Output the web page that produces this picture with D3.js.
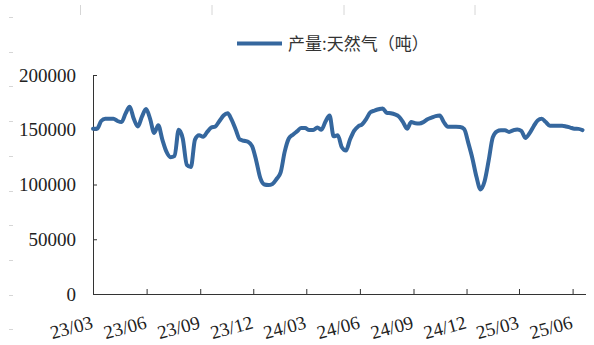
<!DOCTYPE html>
<html>
<head>
<meta charset="utf-8">
<script src="https://cdn.jsdelivr.net/npm/d3@7"></script>
<style>
  body { margin: 0; background: #fff; }
  svg { display: block; }
</style>
</head>
<body>
<div id="chart"></div>
<script>
// weekly output, tons
var startDate = new Date(2023, 2, 1);
var endDate = new Date(2025, 5, 24);
var seriesName = "产量:天然气（吨）";
var gasOutput = [
  151000, 151000, 158000, 160000, 160000, 160000, 158000, 157000, 165000, 171000,
  160000, 153000, 162000, 169000, 160000, 147000, 154000, 141000, 130000, 125000,
  126000, 150000, 142000, 118000, 116000, 141000, 145000, 143600, 148000, 152000,
  153000, 158000, 163000, 165000, 159000, 150000, 141000, 140000, 139000, 135000,
  122000, 106000, 100000, 99500, 100500, 105000, 111000, 130000, 142000, 145500,
  148500, 151500, 151500, 149700, 149700, 152000, 150000, 157500, 163000, 144000,
  145000, 134000, 131000, 141000, 149000, 153000, 155000, 160000, 166000, 167500,
  168700, 169500, 165500, 165000, 164000, 162000, 157000, 151000, 157000, 156000,
  155800, 157000, 159500, 161000, 162500, 163000, 157000, 152700, 152700, 152700,
  152500, 150500, 138000, 124000, 107000, 95500, 103000, 122000, 143000, 148500,
  149500, 149500, 148000, 149500, 150300, 149000, 142500, 146700, 153000, 158500,
  160000, 157000, 153700, 153700, 153700, 153700, 153000, 152000, 151000, 150800,
  149700
];
var yTicks = [0, 50000, 100000, 150000, 200000];
var xTickDates = [
  new Date(2023, 2, 1), new Date(2023, 5, 1), new Date(2023, 8, 1), new Date(2023, 11, 1),
  new Date(2024, 2, 1), new Date(2024, 5, 1), new Date(2024, 8, 1), new Date(2024, 11, 1),
  new Date(2025, 2, 1), new Date(2025, 5, 1)
];

var W = 594, H = 345;
var plotLeft = 93, plotRight = 586, plotTop = 75, plotBottom = 294;

var data = gasOutput.map(function (v, i) {
  return { date: d3.timeDay.offset(startDate, 7 * i), value: v };
});

var svg = d3.select("#chart").append("svg")
  .attr("width", W)
  .attr("height", H);

var x = d3.scaleTime().domain([startDate, endDate]).range([plotLeft, plotRight]);
var y = d3.scaleLinear().domain([0, 200000]).range([plotBottom, plotTop]);

// faint marks from the page background
var bg = svg.append("g").attr("stroke", "#d6d6d6").attr("stroke-width", 1);
[80.5, 212, 344, 475].forEach(function (px) {
  bg.append("line").attr("x1", px).attr("x2", px).attr("y1", 5).attr("y2", 15);
});
d3.range(10).forEach(function (k) {
  var py = Math.round(17 + k * 34.7) + 0.5;
  bg.append("line").attr("x1", 9).attr("x2", 13).attr("y1", py).attr("y2", py);
});

// y axis
var yAxis = svg.append("g")
  .attr("transform", "translate(" + plotLeft + ",0)")
  .call(d3.axisRight(y).tickValues(yTicks).tickSize(4).tickFormat(""));
yAxis.select(".domain").attr("d", "M0.5," + plotTop + "V" + (plotBottom + 0.5)).attr("stroke", "#333");
yAxis.selectAll(".tick line").attr("stroke", "#333");

svg.append("g").selectAll("text")
  .data(yTicks).enter().append("text")
  .attr("x", 76)
  .attr("y", function (d) { return y(d); })
  .attr("dy", "0.35em")
  .attr("text-anchor", "end")
  .style("font-family", "'Liberation Serif', 'Times New Roman', serif")
  .style("font-size", "19px")
  .style("fill", "#222")
  .text(function (d) { return d; });

// x axis, ticks point up into the plot
var xAxis = svg.append("g")
  .attr("transform", "translate(0," + plotBottom + ")")
  .call(d3.axisTop(x).tickValues(xTickDates.slice(1)).tickSize(5).tickFormat(""));
xAxis.select(".domain").attr("d", "M" + plotLeft + ",0.5H" + plotRight).attr("stroke", "#333");
xAxis.selectAll(".tick line").attr("stroke", "#333");

svg.append("g").selectAll("text")
  .data(xTickDates).enter().append("text")
  .attr("transform", function (d) { return "translate(" + (x(d) + 1) + ",328) rotate(-15)"; })
  .attr("text-anchor", "end")
  .style("font-family", "'Liberation Serif', 'Times New Roman', serif")
  .style("font-size", "19px")
  .style("fill", "#222")
  .text(d3.timeFormat("%y/%m"));

// the series
var line = d3.line()
  .x(function (d) { return x(d.date); })
  .y(function (d) { return y(d.value); })
  .curve(d3.curveMonotoneX);

svg.append("path")
  .datum(data)
  .attr("d", line)
  .attr("fill", "none")
  .attr("stroke", "#35679e")
  .attr("stroke-width", 4)
  .attr("stroke-linejoin", "round")
  .attr("stroke-linecap", "round");

// legend
svg.append("line")
  .attr("x1", 237).attr("x2", 282)
  .attr("y1", 43.5).attr("y2", 43.5)
  .attr("stroke", "#35679e")
  .attr("stroke-width", 4);
svg.append("text")
  .attr("x", 288)
  .attr("y", 43.5)
  .attr("dy", "0.36em")
  .style("font-family", "'Noto Sans CJK SC', 'Noto Sans', sans-serif")
  .style("font-size", "17px")
  .style("fill", "#333")
  .text(seriesName);
</script>
</body>
</html>
